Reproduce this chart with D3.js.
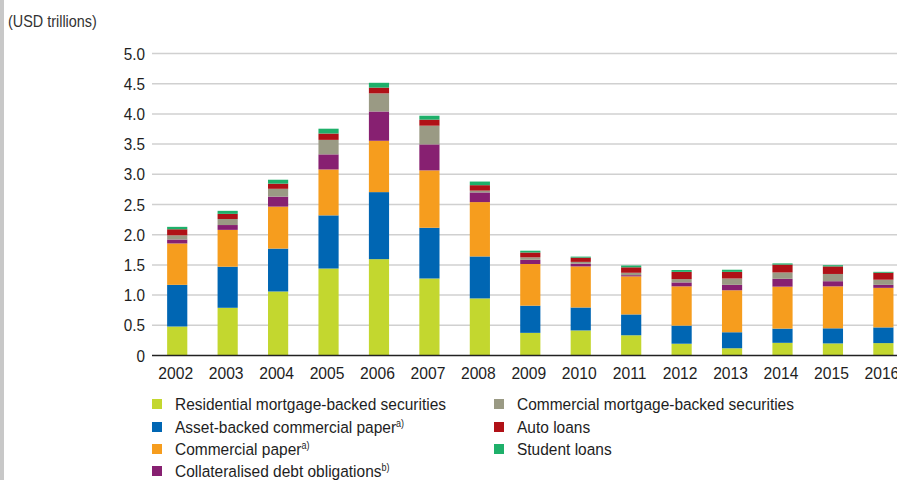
<!DOCTYPE html>
<html>
<head>
<meta charset="utf-8">
<script src="https://cdn.jsdelivr.net/npm/d3@7"></script>
<style>
  body { margin: 0; background: #fff; }
  svg { display: block; font-family: "Liberation Sans", Arial, sans-serif; }
</style>
</head>
<body>
<div id="chart"></div>
<script>
// values, USD trillions
const years = ["2002","2003","2004","2005","2006","2007","2008","2009","2010","2011","2012","2013","2014","2015","2016"];
const rmbs    = [0.48, 0.79, 1.06, 1.44, 1.595, 1.275, 0.945, 0.375, 0.415, 0.335, 0.195, 0.12, 0.21, 0.20, 0.205];
const abcp    = [0.69, 0.68, 0.71, 0.88, 1.11, 0.84, 0.695, 0.45, 0.38, 0.345, 0.30, 0.265, 0.235, 0.25, 0.26];
const cp      = [0.685, 0.61, 0.695, 0.76, 0.85, 0.95, 0.90, 0.69, 0.68, 0.63, 0.65, 0.695, 0.695, 0.695, 0.655];
const cdo     = [0.065, 0.08, 0.165, 0.25, 0.485, 0.43, 0.16, 0.07, 0.045, 0.02, 0.065, 0.09, 0.13, 0.085, 0.05];
const cmbs    = [0.07, 0.10, 0.13, 0.24, 0.30, 0.31, 0.03, 0.04, 0.03, 0.04, 0.055, 0.105, 0.105, 0.12, 0.085];
const auto    = [0.10, 0.085, 0.085, 0.105, 0.095, 0.10, 0.09, 0.08, 0.07, 0.09, 0.12, 0.11, 0.13, 0.125, 0.115];
const student = [0.04, 0.05, 0.065, 0.08, 0.08, 0.065, 0.06, 0.03, 0.017, 0.03, 0.03, 0.035, 0.02, 0.02, 0.015];

const series = [
  {key: "rmbs",    name: "Residential mortgage-backed securities", sup: "",   color: "#c3d72f", values: rmbs},
  {key: "abcp",    name: "Asset-backed commercial paper",          sup: "a)", color: "#0066b3", values: abcp},
  {key: "cp",      name: "Commercial paper",                       sup: "a)", color: "#f69d1e", values: cp},
  {key: "cdo",     name: "Collateralised debt obligations",        sup: "b)", color: "#872071", values: cdo},
  {key: "cmbs",    name: "Commercial mortgage-backed securities",  sup: "",   color: "#9a9a84", values: cmbs},
  {key: "auto",    name: "Auto loans",                             sup: "",   color: "#b01117", values: auto},
  {key: "student", name: "Student loans",                          sup: "",   color: "#1eb06a", values: student}
];
const yTicks = [0, 0.5, 1, 1.5, 2, 2.5, 3, 3.5, 4, 4.5, 5];

const width = 897, height = 480;
const squeeze = 0.9; // fake a condensed face: taller type, squeezed sideways

const svg = d3.select("#chart").append("svg")
  .attr("width", width)
  .attr("height", height);

// grey rule on the left edge
svg.append("rect").attr("x", 0).attr("y", 0).attr("width", 4).attr("height", height).attr("fill", "#c8c8c8");

const table = years.map((y, i) => {
  const row = {year: y};
  series.forEach(s => row[s.key] = s.values[i]);
  return row;
});

const stack = d3.stack().keys(series.map(s => s.key));
const stacked = stack(table);

const x = d3.scaleBand()
  .domain(years)
  .range([152, 908.6])
  .paddingInner(0.6)
  .paddingOuter(0.3);

const y = d3.scaleLinear()
  .domain([0, 5])
  .range([355.5, 53.5]);

// gridlines
svg.append("g").selectAll("line")
  .data(yTicks.filter(d => d > 0))
  .join("line")
  .attr("x1", 152).attr("x2", width)
  .attr("y1", d => y(d)).attr("y2", d => y(d))
  .attr("stroke", "#d0d0d0")
  .attr("stroke-width", 1.5);

// y tick labels
svg.append("g").selectAll("text")
  .data(yTicks)
  .join("text")
  .attr("transform", d => `translate(145,${y(d)}) scale(${squeeze},1)`)
  .attr("dy", "0.36em")
  .attr("text-anchor", "end")
  .attr("font-size", 17)
  .attr("fill", "#1e1e1e")
  .text(d => d === 0 ? "0" : d3.format(".1f")(d));

// bars
svg.append("g").selectAll("g")
  .data(stacked)
  .join("g")
  .attr("fill", (d, i) => series[i].color)
  .selectAll("rect")
  .data(d => d)
  .join("rect")
  .attr("x", d => x(d.data.year))
  .attr("width", x.bandwidth())
  .attr("y", d => y(d[1]))
  .attr("height", d => y(d[0]) - y(d[1]));

// zero axis line
svg.append("line")
  .attr("x1", 152).attr("x2", width)
  .attr("y1", y(0)).attr("y2", y(0))
  .attr("stroke", "#222")
  .attr("stroke-width", 1.5);

// x labels
svg.append("g").selectAll("text")
  .data(years)
  .join("text")
  .attr("transform", d => `translate(${x(d) + x.bandwidth() / 2 - 1.5},379) scale(${squeeze},1)`)
  .attr("text-anchor", "middle")
  .attr("font-size", 17.4)
  .attr("fill", "#1e1e1e")
  .text(d => d);

// unit label
svg.append("text")
  .attr("transform", `translate(8,27) scale(${squeeze},1)`)
  .attr("font-size", 16)
  .attr("fill", "#333")
  .text("(USD trillions)");

// legend, two columns
const legendPos = [
  [152, 404], [152, 427], [152, 449], [152, 471],
  [494, 404], [494, 427], [494, 449]
];
const legend = svg.append("g").selectAll("g")
  .data(series)
  .join("g")
  .attr("transform", (d, i) => `translate(${legendPos[i][0]},${legendPos[i][1]})`);

legend.append("rect")
  .attr("x", 0).attr("y", -5)
  .attr("width", 10).attr("height", 10)
  .attr("fill", d => d.color);

const lt = legend.append("text")
  .attr("transform", `translate(23,0) scale(${squeeze},1)`)
  .attr("dy", "0.36em")
  .attr("font-size", 17.2)
  .attr("fill", "#1e1e1e");
lt.append("tspan").text(d => d.name);
lt.append("tspan")
  .attr("font-size", 10)
  .attr("dy", "-0.6em")
  .text(d => d.sup);
</script>
</body>
</html>
